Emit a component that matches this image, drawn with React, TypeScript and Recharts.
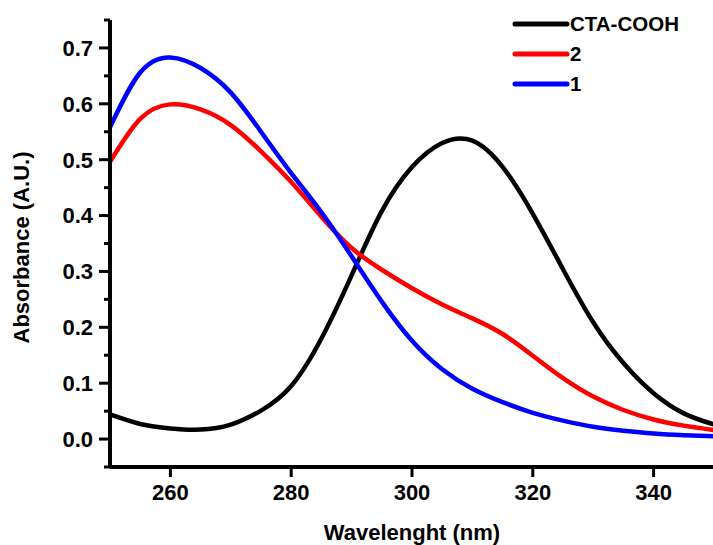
import React from 'react';
import { LineChart, Line, XAxis, YAxis } from 'recharts';

const wavelengths = [250, 255, 260, 265, 270, 275, 280, 285, 290, 295, 300, 305, 310, 315, 320, 325, 330, 335, 340, 345, 350];
const ctaCooh = [0.044, 0.027, 0.019, 0.017, 0.026, 0.051, 0.095, 0.18, 0.293, 0.408, 0.487, 0.53, 0.534, 0.487, 0.403, 0.304, 0.209, 0.136, 0.082, 0.046, 0.026];
const sample2 = [0.496, 0.573, 0.599, 0.59, 0.562, 0.515, 0.46, 0.398, 0.342, 0.303, 0.27, 0.241, 0.216, 0.188, 0.149, 0.109, 0.076, 0.052, 0.035, 0.024, 0.016];
const sample1 = [0.558, 0.656, 0.683, 0.664, 0.62, 0.55, 0.476, 0.406, 0.327, 0.246, 0.176, 0.125, 0.09, 0.066, 0.047, 0.033, 0.022, 0.015, 0.01, 0.007, 0.005];

const xTicks = [260, 280, 300, 320, 340];
const yTicks = [-0.05, 0, 0.05, 0.1, 0.15, 0.2, 0.25, 0.3, 0.35, 0.4, 0.45, 0.5, 0.55, 0.6, 0.65, 0.7, 0.75];

const series = [
  { key: 'cta', name: 'CTA-COOH', values: ctaCooh, color: '#000000' },
  { key: 's2', name: '2', values: sample2, color: '#ff0000' },
  { key: 's1', name: '1', values: sample1, color: '#0000ff' },
];

const data = wavelengths.map((wl, i) => {
  const row: Record<string, number> = { wl };
  series.forEach(s => { row[s.key] = s.values[i]; });
  return row;
});

const FONT = '"Liberation Sans", Arial, sans-serif';

const isMajor = (v: number) => Math.abs(v * 10 - Math.round(v * 10)) < 1e-6;

function YTick({ x, y, payload }: any) {
  const v = payload.value as number;
  const major = isMajor(v);
  return (
    <g>
      <line x1={x - (major ? 11 : 6)} x2={x} y1={y} y2={y} stroke="#000" strokeWidth={3} />
      {major && (
        <text x={x - 17} y={y} dy="0.36em" textAnchor="end" fontFamily={FONT} fontWeight="bold" fontSize={22} fill="#000">
          {v.toFixed(1)}
        </text>
      )}
    </g>
  );
}

function XTick({ x, y, payload }: any) {
  return (
    <g>
      <line x1={x} x2={x} y1={y} y2={y + 10} stroke="#000" strokeWidth={3} />
      <text x={x} y={y + 33} textAnchor="middle" fontFamily={FONT} fontWeight="bold" fontSize={22} fill="#000">
        {payload.value}
      </text>
    </g>
  );
}

function ChartLegend() {
  return (
    <svg width={200} height={100} style={{ position: 'absolute', left: 510, top: 8 }}>
      {series.map((s, i) => (
        <g key={s.key}>
          <line x1={5} x2={57} y1={16 + i * 30} y2={16 + i * 30} stroke={s.color} strokeWidth={5} strokeLinecap="round" />
          <text x={60} y={16 + i * 30} dy="0.36em" fontFamily={FONT} fontWeight="bold" fontSize={20.5} fill="#000">
            {s.name}
          </text>
        </g>
      ))}
    </svg>
  );
}

export default function App() {
  return (
    <div style={{ position: 'absolute', left: 0, top: 0, width: 713, height: 545, overflow: 'hidden', background: '#fff' }}>
      <LineChart width={716} height={545} data={data} margin={{ top: 20, right: 2, bottom: 0, left: 0 }}>
        <XAxis
          dataKey="wl"
          type="number"
          domain={[250, 350]}
          ticks={xTicks}
          interval={0}
          height={78}
          tickSize={0}
          tickMargin={0}
          tickLine={false}
          axisLine={{ stroke: '#000', strokeWidth: 4 }}
          tick={<XTick />}
          label={{
            content: ({ viewBox }: any) => (
              <text x={viewBox.x + viewBox.width / 2} y={540} textAnchor="middle" fontFamily={FONT} fontWeight="bold" fontSize={22} fill="#000">
                Wavelenght (nm)
              </text>
            ),
          }}
        />
        <YAxis
          type="number"
          domain={[-0.05, 0.75]}
          ticks={yTicks}
          interval={0}
          width={110}
          tickSize={0}
          tickMargin={0}
          tickLine={false}
          axisLine={{ stroke: '#000', strokeWidth: 4 }}
          tick={<YTick />}
          label={{
            content: ({ viewBox }: any) => (
              <text x={29} y={viewBox.y + viewBox.height / 2 + 4} transform={`rotate(-90, 29, ${viewBox.y + viewBox.height / 2 + 4})`} textAnchor="middle" fontFamily={FONT} fontWeight="bold" fontSize={22} fill="#000">
                Absorbance (A.U.)
              </text>
            ),
          }}
        />
        {series.map(s => (
          <Line
            key={s.key}
            dataKey={s.key}
            name={s.name}
            type="natural"
            stroke={s.color}
            strokeWidth={4.5}
            dot={false}
            isAnimationActive={false}
          />
        ))}
      </LineChart>
      <ChartLegend />
    </div>
  );
}
